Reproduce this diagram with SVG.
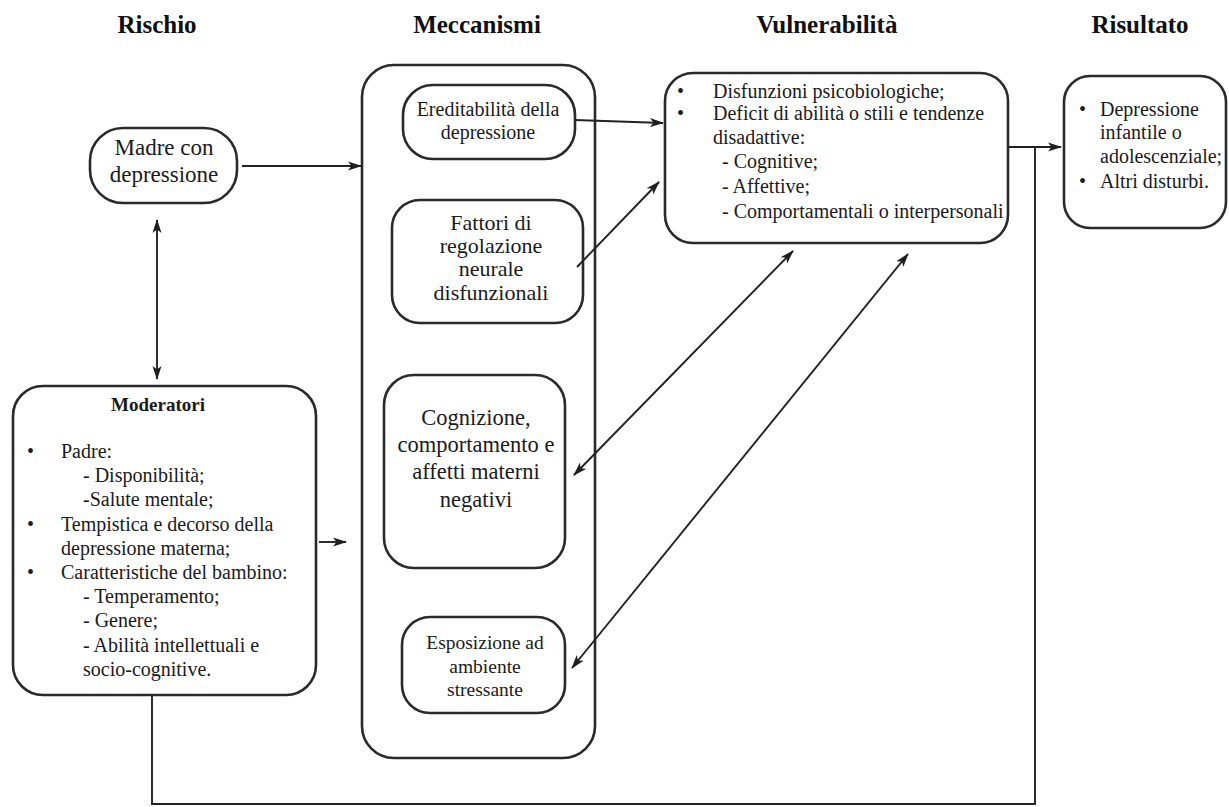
<svg xmlns="http://www.w3.org/2000/svg" width="1229" height="807" viewBox="0 0 1229 807">
<defs>
<marker id="ah" viewBox="0 0 14 10" refX="13" refY="5" markerWidth="14" markerHeight="10" markerUnits="userSpaceOnUse" orient="auto-start-reverse">
<path d="M0,0.5 L14,5 L0,9.5 L3.5,5 z" fill="#1e1e1e"/>
</marker>
<style>
.box{fill:#fff;stroke:#2a2a2a;stroke-width:2.6}
.frame{fill:none;stroke:#2a2a2a;stroke-width:2.6}
text{font-family:"Liberation Serif","Times New Roman",serif;fill:#1a1a1a}
.h{font-weight:bold;font-size:25px;fill:#111;text-anchor:middle}
.c{text-anchor:middle}
.f20{font-size:20px}
.con{fill:none;stroke:#222;stroke-width:1.9}
</style>
</defs>
<rect width="1229" height="807" fill="#fff"/>

<g id="headers">
<text class="h" x="157" y="33">Rischio</text>
<text class="h" x="477" y="33">Meccanismi</text>
<text class="h" x="827" y="33">Vulnerabilità</text>
<text class="h" x="1140" y="33">Risultato</text>
</g>

<g id="meccanismi">
<rect class="frame" x="362" y="65" width="233" height="693" rx="32"/>
</g>

<g id="madre">
<rect class="box" x="90" y="128" width="147" height="75" rx="33"/>
<text class="c" x="164" y="155" font-size="23">Madre con</text>
<text class="c" x="164" y="182" font-size="23">depressione</text>
</g>

<g id="moderatori">
<rect class="box" x="13" y="386" width="303" height="309" rx="30"/>
<text class="c" x="158" y="411" font-size="19" font-weight="bold">Moderatori</text>
<g class="f20">
<text x="27" y="458">•</text><text x="61" y="458">Padre:</text>
<text x="83" y="482">- Disponibilità;</text>
<text x="83" y="506">-Salute mentale;</text>
<text x="27" y="531">•</text><text x="61" y="531">Tempistica e decorso della</text>
<text x="61" y="555">depressione materna;</text>
<text x="27" y="579">•</text><text x="61" y="579">Caratteristiche del bambino:</text>
<text x="83" y="603">- Temperamento;</text>
<text x="83" y="627">- Genere;</text>
<text x="83" y="652">- Abilità intellettuali e</text>
<text x="83" y="676">socio-cognitive.</text>
</g>
</g>

<g id="ereditabilita">
<rect class="box" x="403" y="85" width="172" height="74" rx="30"/>
<text class="c f20" x="488" y="116">Ereditabilità della</text>
<text class="c f20" x="488" y="139">depressione</text>
</g>

<g id="fattori">
<rect class="box" x="392" y="200" width="191" height="123" rx="28"/>
<text class="c" x="491" y="230" font-size="22">Fattori di</text>
<text class="c" x="491" y="253" font-size="22">regolazione</text>
<text class="c" x="491" y="276" font-size="22">neurale</text>
<text class="c" x="491" y="300" font-size="22">disfunzionali</text>
</g>

<g id="cognizione">
<rect class="box" x="384" y="375" width="181" height="193" rx="30"/>
<text class="c" x="476" y="425" font-size="22.5">Cognizione,</text>
<text class="c" x="476" y="452" font-size="22.5">comportamento e</text>
<text class="c" x="476" y="479" font-size="22.5">affetti materni</text>
<text class="c" x="476" y="507" font-size="22.5">negativi</text>
</g>

<g id="esposizione">
<rect class="box" x="402" y="617" width="163" height="96" rx="28"/>
<text class="c" x="485" y="649" font-size="19.5">Esposizione ad</text>
<text class="c" x="485" y="673" font-size="19.5">ambiente</text>
<text class="c" x="485" y="696" font-size="19.5">stressante</text>
</g>

<g id="vulnerabilita">
<rect class="box" x="665" y="73" width="343" height="170" rx="28"/>
<g class="f20">
<text x="677" y="98">•</text><text x="713" y="98">Disfunzioni psicobiologiche;</text>
<text x="677" y="120">•</text><text x="713" y="120">Deficit di abilità o stili e tendenze</text>
<text x="713" y="144">disadattive:</text>
<text x="722" y="168">- Cognitive;</text>
<text x="722" y="193">- Affettive;</text>
<text x="722" y="218">- Comportamentali o interpersonali</text>
</g>
</g>

<g id="risultato">
<rect class="box" x="1064" y="76" width="162" height="152" rx="26"/>
<g class="f20">
<text x="1079" y="116">•</text><text x="1100" y="116">Depressione</text>
<text x="1100" y="139">infantile o</text>
<text x="1100" y="163">adolescenziale;</text>
<text x="1079" y="188">•</text><text x="1100" y="188">Altri disturbi.</text>
</g>
</g>

<g id="connectors">
<line class="con" x1="242" y1="166" x2="361" y2="166" marker-end="url(#ah)"/>
<line class="con" x1="157" y1="220" x2="157" y2="379" marker-start="url(#ah)" marker-end="url(#ah)"/>
<line class="con" x1="319" y1="542" x2="346" y2="542" marker-end="url(#ah)"/>
<line class="con" x1="575" y1="120" x2="663" y2="123" marker-end="url(#ah)"/>
<line class="con" x1="577" y1="267" x2="659" y2="182" marker-end="url(#ah)"/>
<line class="con" x1="574" y1="475" x2="793" y2="251" marker-start="url(#ah)" marker-end="url(#ah)"/>
<line class="con" x1="572" y1="668" x2="908" y2="254" marker-start="url(#ah)" marker-end="url(#ah)"/>
<line class="con" x1="1008" y1="147" x2="1061" y2="147" marker-end="url(#ah)"/>
<polyline class="con" points="152,695 152,804 1035,804 1035,147"/>
</g>
</svg>
